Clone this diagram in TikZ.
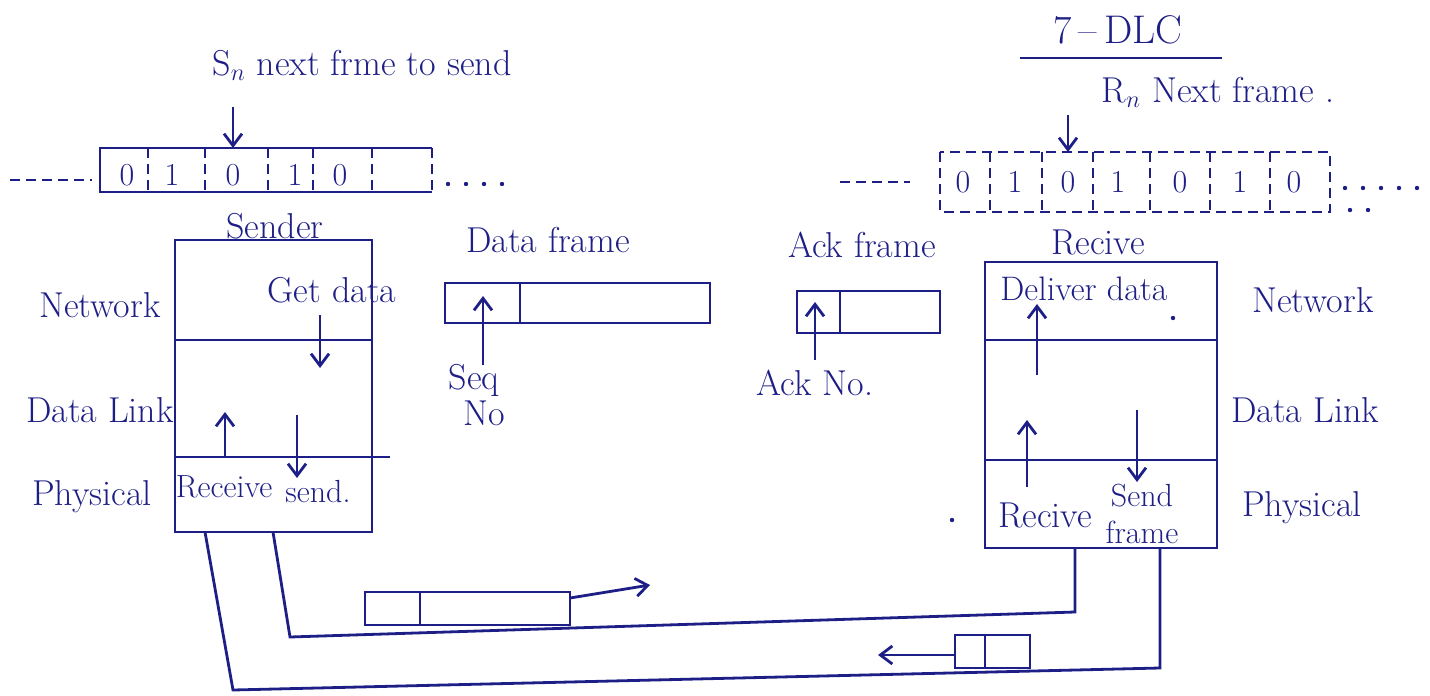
\documentclass[tikz,border=0pt]{standalone}
\usetikzlibrary{arrows.meta}
\definecolor{ink}{RGB}{30,30,135}
\begin{document}
\begin{tikzpicture}[x=0.5pt,y=-0.5pt,line width=1.4pt,
  lbl/.style={font=\fontsize{18}{20}\selectfont,text=ink,inner sep=1pt},
  dig/.style={font=\fontsize{16}{18}\selectfont,text=ink,inner sep=0pt},
  arr/.style={draw=ink,-{Straight Barb[length=6pt,width=9pt]}},
  ln/.style={draw=ink},
  dots/.style={draw=ink,dash pattern=on 0pt off 9pt,line cap=round,line width=2.2pt},
  dsh/.style={draw=ink,dash pattern=on 5pt off 3pt}]
\useasboundingbox (0,0) rectangle (1430,696);

% title
\node[lbl,font=\fontsize{20}{22}\selectfont] (title) at (1118,30) {7\,--\,DLC};
\coordinate (ul1) at (1020,58); \coordinate (ul2) at (1222,58);
\draw[ln] (ul1) -- (ul2);

% sender window
\node[lbl] (sn) at (362,65) {S$_n$ next frme to send};
\coordinate (snA) at (233,107); \coordinate (snB) at (233,148);
\draw[arr] (snA) -- (snB);
\draw[dsh] (10,180) -- (92,180);
\draw[ln] (432,148) -- (100,148) -- (100,192) -- (432,192);
\foreach \x in {148,205,268,313,372,432} \draw[dsh] (\x,148) -- (\x,192);
\foreach \x/\d in {127/0,172/1,233/0,295/1,340/0} \node[dig] at (\x,175) {\d};
\draw[dots] (448,184) -- (512,184);

% receiver window
\node[lbl] (rn) at (1218,92) {R$_n$ Next frame .};
\coordinate (rnA) at (1068,115); \coordinate (rnB) at (1068,152);
\draw[arr] (rnA) -- (rnB);
\draw[dsh] (840,182) -- (910,182);
\draw[dsh] (940,152) rectangle (1330,212);
\foreach \x in {990,1042,1093,1150,1210,1270} \draw[dsh] (\x,152) -- (\x,212);
\foreach \x/\d in {963/0,1015/1,1068/0,1118/1,1180/0,1240/1,1294/0} \node[dig] at (\x,182) {\d};
\draw[dots] (1345,188) -- (1425,188);
\draw[dots] (1350,210) -- (1370,210);

% sender stack
\node[lbl] (sender) at (275,226) {Sender};
\draw[ln] (175,240) rectangle (372,532);
\draw[ln] (175,340) -- (372,340);
\draw[ln] (175,457) -- (390,457);
\node[lbl] (snet) at (100,305) {Network};
\node[lbl] (sdl) at (100,410) {Data Link};
\node[lbl] (sph) at (92,497) {Physical};
\node[lbl] (getd) at (332,290) {Get data};
\coordinate (g1) at (320,315); \coordinate (g2) at (320,368);
\draw[arr] (g1) -- (g2);
\coordinate (r1) at (225,457); \coordinate (r2) at (225,412);
\draw[arr] (r1) -- (r2);
\coordinate (s1) at (297,415); \coordinate (s2) at (297,478);
\draw[arr] (s1) -- (s2);
\node[lbl,font=\fontsize{16}{18}\selectfont] (srecv) at (224,487) {Receive};
\node[lbl,font=\fontsize{16}{18}\selectfont] (ssend) at (318,492) {send.};

% data frame
\node[lbl] (dfl) at (548,240) {Data frame};
\draw[ln] (445,283) rectangle (710,323);
\draw[ln] (520,283) -- (520,323);
\coordinate (q1) at (483,365); \coordinate (q2) at (483,296);
\draw[arr] (q1) -- (q2);
\node[lbl] (seq) at (474,380) {Seq};
\node[lbl] (seqno) at (484,413) {No};

% ack frame
\node[lbl] (afl) at (862,245) {Ack frame};
\draw[ln] (797,291) rectangle (940,333);
\draw[ln] (840,291) -- (840,333);
\coordinate (a1) at (815,360); \coordinate (a2) at (815,302);
\draw[arr] (a1) -- (a2);
\node[lbl] (ackno) at (815,383) {Ack No.};

% receiver stack
\node[lbl] (recv) at (1098,242) {Recive};
\draw[ln] (985,262) rectangle (1217,548);
\draw[ln] (985,340) -- (1217,340);
\draw[ln] (985,460) -- (1217,460);
\node[lbl,font=\fontsize{17}{19}\selectfont] (deliv) at (1084,289) {Deliver data};
\fill[ink] (1173,318) circle (2.2);
\fill[ink] (952,520) circle (2.2);
\coordinate (d1) at (1037,375); \coordinate (d2) at (1037,304);
\draw[arr] (d1) -- (d2);
\coordinate (e1) at (1027,487); \coordinate (e2) at (1027,420);
\draw[arr] (e1) -- (e2);
\coordinate (f1) at (1137,410); \coordinate (f2) at (1137,482);
\draw[arr] (f1) -- (f2);
\node[lbl] (rrecv) at (1045,515) {Recive};
\node[lbl,font=\fontsize{16}{18}\selectfont] (rsend) at (1142,496) {Send};
\node[lbl,font=\fontsize{16}{18}\selectfont] (rframe) at (1142,532) {frame};
\node[lbl] (rnet) at (1313,300) {Network};
\node[lbl] (rdl) at (1305,410) {Data Link};
\node[lbl] (rph) at (1302,508) {Physical};

% physical links
\coordinate (sb1) at (205,532); \coordinate (sb2) at (273,532);
\coordinate (rb1) at (1075,548); \coordinate (rb2) at (1160,548);
\draw[ln] (sb1) -- (233,690) -- (1160,668) -- (rb2);
\draw[ln] (sb2) -- (290,637) -- (1075,612) -- (rb1);

% frames in transit
\draw[ln] (365,592) rectangle (570,625);
\draw[ln] (420,592) -- (420,625);
\coordinate (t1) at (570,598); \coordinate (t2) at (650,585);
\draw[arr] (t1) -- (t2);
\draw[ln] (955,635) rectangle (1030,668);
\draw[ln] (985,635) -- (985,668);
\coordinate (u1) at (955,655); \coordinate (u2) at (878,655);
\draw[arr] (u1) -- (u2);
\end{tikzpicture}
\end{document}
